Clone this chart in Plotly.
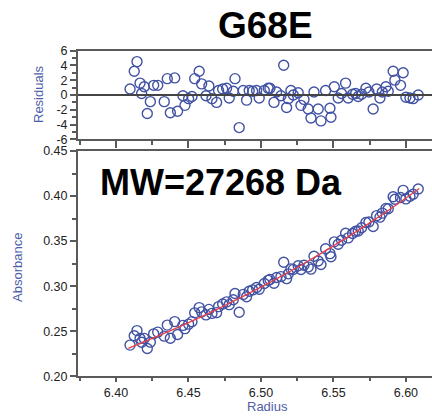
import plotly.graph_objects as go

# Data
radius = [6.4097, 6.4126, 6.4145, 6.4166, 6.4177, 6.4195, 6.4216, 6.4237, 6.4260, 6.4288,
          6.4333, 6.4354, 6.4375, 6.4405, 6.4425, 6.4462, 6.4476, 6.4501, 6.4524, 6.4543,
          6.4574, 6.4591, 6.4621, 6.4641, 6.4662, 6.4694, 6.4708, 6.4736, 6.4763, 6.4781,
          6.4809, 6.4821, 6.4850, 6.4878, 6.4901, 6.4919, 6.4943, 6.4970, 6.4988, 6.5023,
          6.5050, 6.5062, 6.5090, 6.5108, 6.5138, 6.5157, 6.5177, 6.5189, 6.5207, 6.5223,
          6.5257, 6.5276, 6.5297, 6.5326, 6.5345, 6.5366, 6.5395, 6.5414, 6.5446, 6.5476,
          6.5483, 6.5506, 6.5533, 6.5556, 6.5584, 6.5602, 6.5632, 6.5653, 6.5671, 6.5694,
          6.5724, 6.5745, 6.5774, 6.5798, 6.5821, 6.5837, 6.5862, 6.5878, 6.5912, 6.5924,
          6.5963, 6.5981, 6.6000, 6.6028, 6.6050, 6.6085]

residuals = [0.8, 3.2, 4.5, 1.6, 0.2, 1.1, -2.5, -0.9, 1.3, 1.3,
             -0.9, 2.2, -2.4, 2.3, -2.2, -0.1, -1.4, -0.5, -0.2, 2.2,
             3.2, 1.5, -0.1, 1.2, -0.5, -1.0, 0.6, 0.8, 0.9, -0.4,
             0.5, 2.2, -4.4, 0.6, -0.7, 0.6, 0.5, 0.6, -0.4, 0.6,
             0.9, 0.9, -1.0, 0.4, -0.1, 4.0, -1.7, -0.5, 0.6, 0.0,
             0.3, -1.4, -0.6, -1.9, -3.1, 0.4, -1.9, -3.5, 0.6, -1.8,
             -3.0, 1.1, -0.4, 0.2, 1.6, -0.4, 0.1, 0.2, -0.2, 0.1,
             0.9, 0.4, -1.9, 0.8, -0.4, 0.4, 1.1, 0.5, 3.2, 2.0,
             1.3, 3.0, -0.3, -0.4, -0.5, 0.0]

absorbance = [0.2346, 0.2449, 0.2507, 0.2419, 0.2377, 0.2420, 0.2308, 0.2379, 0.2471, 0.2490,
              0.2445, 0.2568, 0.2422, 0.2607, 0.2464, 0.2565, 0.2529, 0.2579, 0.2606, 0.2704,
              0.2762, 0.2715, 0.2681, 0.2742, 0.2698, 0.2706, 0.2773, 0.2802, 0.2826, 0.2795,
              0.2849, 0.2918, 0.2711, 0.2909, 0.2882, 0.2943, 0.2959, 0.2985, 0.2965, 0.3030,
              0.3064, 0.3075, 0.3032, 0.3097, 0.3106, 0.3266, 0.3084, 0.3137, 0.3192, 0.3186,
              0.3227, 0.3185, 0.3232, 0.3214, 0.3189, 0.3332, 0.3279, 0.3241, 0.3416, 0.3361,
              0.3326, 0.3492, 0.3466, 0.3510, 0.3587, 0.3536, 0.3584, 0.3609, 0.3613, 0.3648,
              0.3707, 0.3712, 0.3662, 0.3783, 0.3766, 0.3811, 0.3863, 0.3860, 0.3992, 0.3964,
              0.3984, 0.4063, 0.3969, 0.3998, 0.4020, 0.4079]

fit_radius = [6.4085, 6.43, 6.45, 6.47, 6.49, 6.51, 6.53, 6.55, 6.57, 6.59, 6.6092]
fit_absorbance = [0.2310, 0.2453, 0.2595, 0.2746, 0.2906, 0.3075, 0.3255, 0.3447, 0.3650, 0.3865, 0.4085]

title_text = "G68E"
mw_text = "MW=27268 Da"

BLUE = "#4152a3"
LABEL_BLUE = "#4e5ea8"
AXIS = "#5a5a5a"
FONT = "Liberation Sans, Arial, sans-serif"

W, H = 432, 420
def px_x(p):
    return p / W
def px_y(p):
    return 1 - p / H

fig = go.Figure()

marker = dict(symbol="circle-open", size=10, color=BLUE, line=dict(width=1.4, color=BLUE))

fig.add_trace(go.Scatter(x=radius, y=residuals, mode="markers", marker=marker,
                         xaxis="x", yaxis="y", showlegend=False))
fig.add_trace(go.Scatter(x=radius, y=absorbance, mode="markers", marker=marker,
                         xaxis="x2", yaxis="y2", showlegend=False))
fig.add_trace(go.Scatter(x=fit_radius, y=fit_absorbance, mode="lines",
                         line=dict(color="#e8404a", width=1.3, shape="spline"),
                         xaxis="x2", yaxis="y2", showlegend=False))

xrange = [6.3738, 6.618]
xdom = [px_x(78), 1.0]

common_axis = dict(showline=True, linecolor=AXIS, linewidth=2, ticks="outside",
                   tickcolor=AXIS, tickwidth=1.5, showgrid=False, zeroline=False,
                   tickfont=dict(family=FONT, size=12.5, color="#222222"))

fig.update_layout(
    width=W, height=H, autosize=False,
    margin=dict(l=0, r=0, t=0, b=0),
    paper_bgcolor="white", plot_bgcolor="white",
    font=dict(family=FONT),
    xaxis=dict(domain=xdom, range=xrange, anchor="y", tick0=6.40, dtick=0.05,
               showticklabels=False, ticklen=7, mirror=True,
               minor=dict(ticks="outside", dtick=0.025, tick0=6.375, ticklen=4, tickcolor=AXIS),
               **common_axis),
    yaxis=dict(domain=[px_y(137), px_y(45)], range=[-6, 6], anchor="x",
               tickvals=[-6, -4, -2, 0, 2, 4, 6], ticktext=["-6", "-4", "-2", "0", "2", "4", "6"],
               ticklen=6,
               minor=dict(ticks="outside", dtick=1, ticklen=4, tickcolor=AXIS),
               **common_axis),
    xaxis2=dict(domain=xdom, range=xrange, anchor="y2", tick0=6.40, dtick=0.05,
                tickformat=".2f", ticklen=4, mirror=True,
                minor=dict(ticks="outside", dtick=0.025, tick0=6.375, ticklen=3, tickcolor=AXIS),
                **common_axis),
    yaxis2=dict(domain=[px_y(382), px_y(149)], range=[0.20, 0.45], anchor="x2",
                tick0=0.20, dtick=0.05, tickformat=".2f", ticklen=6,
                minor=dict(ticks="outside", dtick=0.025, ticklen=4, tickcolor=AXIS),
                **common_axis),
    shapes=[dict(type="line", xref="x", yref="y", x0=xrange[0], x1=xrange[1], y0=0, y1=0,
                 line=dict(color="#444444", width=2))],
    annotations=[
        dict(text=f"<b>{title_text}</b>", x=px_x(265), y=px_y(19), xref="paper", yref="paper",
             showarrow=False, font=dict(family=FONT, size=37, color="black"),
             xanchor="center", yanchor="middle"),
        dict(text=f"<b>{mw_text}</b>", x=px_x(98), y=px_y(182), xref="paper", yref="paper",
             showarrow=False, font=dict(family=FONT, size=36, color="black"),
             xanchor="left", yanchor="middle"),
        dict(text="Residuals", x=px_x(38), y=px_y(90), xref="paper", yref="paper",
             showarrow=False, textangle=-90, font=dict(family=FONT, size=13, color=LABEL_BLUE),
             xanchor="center", yanchor="middle"),
        dict(text="Absorbance", x=px_x(17), y=px_y(270), xref="paper", yref="paper",
             showarrow=False, textangle=-90, font=dict(family=FONT, size=13, color=LABEL_BLUE),
             xanchor="center", yanchor="middle"),
        dict(text="Radius", x=px_x(267), y=px_y(413), xref="paper", yref="paper",
             showarrow=False, font=dict(family=FONT, size=13, color=LABEL_BLUE),
             xanchor="center", yanchor="middle"),
    ],
)

fig.write_html("out.html", config={"displayModeBar": False},
               post_script="document.body.style.margin='0px';")
